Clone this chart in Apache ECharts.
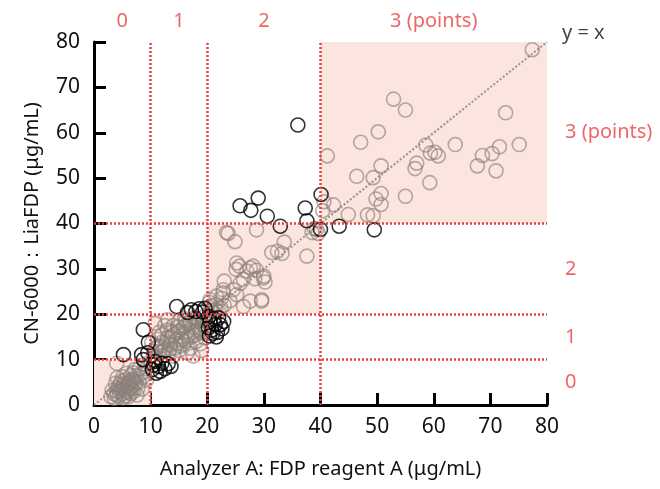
<!DOCTYPE html>
<html>
<head>
<meta charset="utf-8">
<script src="https://cdn.jsdelivr.net/npm/echarts@6/dist/echarts.min.js"></script>
<style>
  html, body { margin: 0; padding: 0; background: #fff; }
  #chart { width: 660px; height: 489px; }
</style>
</head>
<body>
<div id="chart"></div>
<script>
var chart = echarts.init(document.getElementById('chart'))

// score boundaries (μg/mL)
var bounds = [0, 10, 20, 40, 80]
var scoreNames = ['0', '1', '2', '3 (points)']
var diag = [[0, 0], [80, 80]]

// concordant results (same score on both analyzers)
var grayPts = [
  // 0 - 10
  [3.0, 1.8], [3.5, 2.5], [4.0, 2.2], [4.5, 3.0], [5.0, 2.5], [5.5, 2.0], [6.0, 3.0], [6.5, 2.5],
  [7.0, 3.0], [4.2, 3.8], [5.0, 4.0], [5.8, 4.2], [6.5, 4.0], [7.2, 4.5], [3.8, 4.8], [4.8, 5.2],
  [5.5, 5.5], [6.2, 5.0], [7.0, 5.5], [8.0, 5.0], [8.5, 6.0], [7.5, 6.5], [6.5, 6.5], [5.8, 7.0],
  [8.8, 7.2], [9.2, 8.0], [8.0, 8.0], [7.2, 7.8], [9.0, 9.0], [4.0, 9.2], [6.8, 3.5], [4.5, 4.5],
  [8.5, 3.5], [9.3, 5.5], [3.2, 3.2], [3.6, 1.5], [4.4, 1.8], [5.2, 1.6], [6.1, 1.8], [7.6, 2.2],
  [4.7, 3.6], [5.4, 3.4], [6.0, 4.6], [6.6, 5.6], [5.1, 6.2], [4.1, 6.0], [7.8, 3.8], [8.2, 6.8],
  [6.9, 7.1], [5.3, 4.7], [4.0, 3.0], [5.7, 2.8], [7.4, 5.0], [6.3, 3.6],
  // 10 - 20
  [10.2, 13.7], [10.5, 11.0], [10.8, 12.5], [11.0, 10.5], [11.2, 14.5], [11.5, 11.8], [11.8, 13.0],
  [12.0, 15.5], [12.2, 10.8], [12.5, 12.2], [12.8, 14.0], [13.0, 16.5], [13.2, 11.5], [13.5, 13.2],
  [13.8, 15.0], [14.0, 17.5], [14.2, 12.5], [14.5, 14.2], [14.8, 16.0], [15.0, 18.5], [15.2, 13.0],
  [15.5, 15.2], [15.8, 17.0], [16.0, 19.0], [16.2, 14.0], [16.5, 16.0], [16.8, 18.0], [17.0, 12.5],
  [17.2, 15.0], [17.5, 17.2], [17.8, 19.2], [18.0, 14.0], [18.2, 16.5], [18.5, 18.5], [18.8, 13.5],
  [19.0, 15.8], [19.2, 17.8], [19.5, 19.5], [19.6, 14.8], [12.5, 17.5], [11.5, 16.0], [14.0, 10.8],
  [16.5, 11.5], [15.0, 12.0], [13.0, 18.8], [17.5, 10.8], [19.0, 12.0], [10.8, 18.0],
  [12.0, 13.8], [13.0, 14.8], [14.0, 15.5], [15.0, 16.4], [16.0, 17.4], [17.0, 18.4], [18.0, 19.0],
  [14.5, 13.5], [15.5, 14.4], [16.5, 15.0], [17.5, 16.0], [18.5, 17.0], [19.3, 18.6], [13.4, 12.4],
  [12.2, 11.8], [11.3, 12.9], [14.8, 17.2], [16.2, 18.6], [17.8, 15.4], [18.8, 16.2], [15.8, 13.4],
  [13.6, 16.2], [19.6, 16.8],
  // 20 - 40
  [20.5, 23.2], [21.4, 22.1], [21.6, 24.0], [22.8, 25.4], [23.0, 27.3], [24.6, 25.4], [25.2, 24.3],
  [25.8, 26.8], [26.4, 27.7], [28.4, 27.8], [30.2, 27.1], [30.0, 28.4], [28.7, 29.7], [27.6, 30.2],
  [25.1, 29.9], [25.7, 30.6], [27.6, 22.9], [29.6, 22.9], [26.4, 21.7], [32.4, 33.9], [33.2, 33.4],
  [33.6, 35.9], [37.6, 32.8], [39.6, 37.8], [38.9, 38.9], [28.7, 38.6], [24.9, 36.0], [23.7, 37.8],
  [20.8, 20.8], [21.5, 21.0], [22.0, 20.5], [23.0, 22.0], [22.5, 23.5], [24.0, 23.0], [25.2, 31.3],
  [28.1, 30.6], [27.0, 29.5], [29.9, 28.0], [29.6, 23.2], [22.8, 24.7], [31.4, 33.6], [23.4, 38.0],
  [38.5, 38.0], [39.3, 38.7], [20.6, 21.8], [21.2, 20.4], [22.4, 21.4], [20.4, 22.6],
  // 40 - 80
  [77.4, 78.3], [52.9, 67.4], [55.0, 65.0], [72.7, 64.4], [50.2, 60.2], [47.1, 57.9], [75.1, 57.4],
  [63.8, 57.4], [71.6, 56.9], [58.6, 57.3], [70.3, 55.4], [68.6, 55.0], [59.4, 55.5], [60.2, 55.7],
  [60.8, 54.9], [41.2, 54.9], [50.7, 52.7], [57.0, 53.3], [56.7, 52.1], [67.7, 52.7], [71.0, 51.6],
  [46.4, 50.4], [49.3, 50.1], [59.3, 49.0], [55.0, 46.0], [50.7, 46.6], [49.8, 45.4], [50.7, 44.2],
  [42.3, 44.1], [40.6, 44.8], [40.4, 42.8], [44.9, 42.0], [48.3, 41.9], [49.3, 41.7]
]

// discordant results
var blackPts = [
  [36.0, 61.7], [25.8, 43.9], [27.7, 42.9], [29.0, 45.6], [30.6, 41.6], [32.9, 39.4], [37.3, 43.4],
  [37.6, 40.6], [40.1, 46.4], [40.0, 38.7], [43.3, 39.4], [49.5, 38.6],
  [20.3, 19.5], [20.5, 18.4], [21.4, 17.7], [22.3, 17.7], [20.8, 16.5], [21.8, 16.0], [22.6, 16.8],
  [20.4, 15.2], [21.2, 19.0], [22.0, 19.2], [20.2, 17.0], [21.0, 15.8], [22.9, 18.4], [21.6, 15.0],
  [14.6, 21.7], [17.2, 21.0], [18.0, 20.6], [18.6, 21.2], [19.2, 20.5], [19.6, 21.3], [16.5, 20.4],
  [8.7, 16.6], [9.6, 13.8], [5.2, 11.1], [8.4, 11.1], [8.7, 10.0], [9.5, 11.5],
  [10.5, 8.8], [11.4, 8.5], [11.7, 7.4], [12.0, 9.2], [13.1, 9.1], [10.8, 9.6], [12.5, 8.0],
  [13.6, 8.5], [11.0, 7.0], [10.3, 7.8]
]

var red = '#ea3f3f'
var font = 'Noto Sans'

var areas = []
var topLabels = []
var rightLabels = []
for (var i = 0; i < bounds.length - 1; i++) {
  areas.push([{ coord: [bounds[i], bounds[i]] }, { coord: [bounds[i + 1], bounds[i + 1]] }])
  var mid = (bounds[i] + bounds[i + 1]) / 2
  topLabels.push({ name: scoreNames[i], value: [mid, 80] })
  rightLabels.push({ name: scoreNames[i], value: [80, mid] })
}
var cutLines = []
for (var j = 1; j < bounds.length - 1; j++) {
  cutLines.push({ xAxis: bounds[j] })
  cutLines.push({ yAxis: bounds[j] })
}

var option = {
  animation: false,
  textStyle: { fontFamily: font },
  grid: { left: 94, right: 113, top: 42, bottom: 84 },
  xAxis: {
    type: 'value', min: 0, max: 80, interval: 10,
    name: 'Analyzer A: FDP reagent A (μg/mL)',
    nameLocation: 'middle', nameGap: 54,
    nameTextStyle: { fontSize: 20, color: '#111', fontFamily: font },
    axisLine: { lineStyle: { color: '#000', width: 3 } },
    axisTick: { inside: true, length: 12, lineStyle: { width: 3, color: '#000' } },
    axisLabel: { fontSize: 21, color: '#111', margin: 12, fontFamily: font },
    splitLine: { show: false }
  },
  yAxis: {
    type: 'value', min: 0, max: 80, interval: 10,
    name: 'CN-6000：LiaFDP (μg/mL)',
    nameLocation: 'middle', nameGap: 52,
    nameTextStyle: { fontSize: 20, color: '#111', fontFamily: font },
    axisLine: { lineStyle: { color: '#000', width: 3 } },
    axisTick: { inside: true, length: 12, lineStyle: { width: 3, color: '#000' } },
    axisLabel: { fontSize: 21, color: '#111', margin: 14, fontFamily: font },
    splitLine: { show: false }
  },
  series: [
    {
      type: 'line',
      data: diag,
      symbol: 'none',
      silent: true,
      z: 1,
      lineStyle: { color: '#9a9290', width: 2, type: 'dotted' },
      markArea: {
        silent: true,
        itemStyle: { color: '#fbe5de' },
        data: areas
      },
      markLine: {
        silent: true,
        symbol: 'none',
        label: { show: false },
        lineStyle: { color: red, width: 2.5, type: [2, 2] },
        data: cutLines
      }
    },
    {
      type: 'scatter',
      data: grayPts,
      symbol: 'circle',
      symbolSize: 14,
      z: 3,
      itemStyle: { color: 'rgba(0,0,0,0)', borderColor: 'rgba(140,128,122,0.8)', borderWidth: 1.6 }
    },
    {
      type: 'scatter',
      data: blackPts,
      symbol: 'circle',
      symbolSize: 14,
      z: 4,
      itemStyle: { color: 'rgba(0,0,0,0)', borderColor: '#000', borderWidth: 1.6 }
    },
    {
      type: 'scatter',
      data: topLabels,
      symbolSize: 0,
      clip: false,
      silent: true,
      label: {
        show: true, position: 'top', distance: 11,
        formatter: '{b}', color: red, fontSize: 20, fontFamily: font
      }
    },
    {
      type: 'scatter',
      data: rightLabels,
      symbolSize: 0,
      clip: false,
      silent: true,
      label: {
        show: true, position: 'right', distance: 18,
        formatter: '{b}', color: red, fontSize: 20, fontFamily: font
      }
    },
    {
      type: 'scatter',
      data: [{ name: 'y = x', value: diag[1] }],
      symbolSize: 0,
      clip: false,
      silent: true,
      label: {
        show: true, position: 'right', distance: 15, offset: [0, -9],
        formatter: '{b}', color: '#111', fontSize: 20, fontFamily: font
      }
    }
  ]
}
chart.setOption(option)
</script>
</body>
</html>
